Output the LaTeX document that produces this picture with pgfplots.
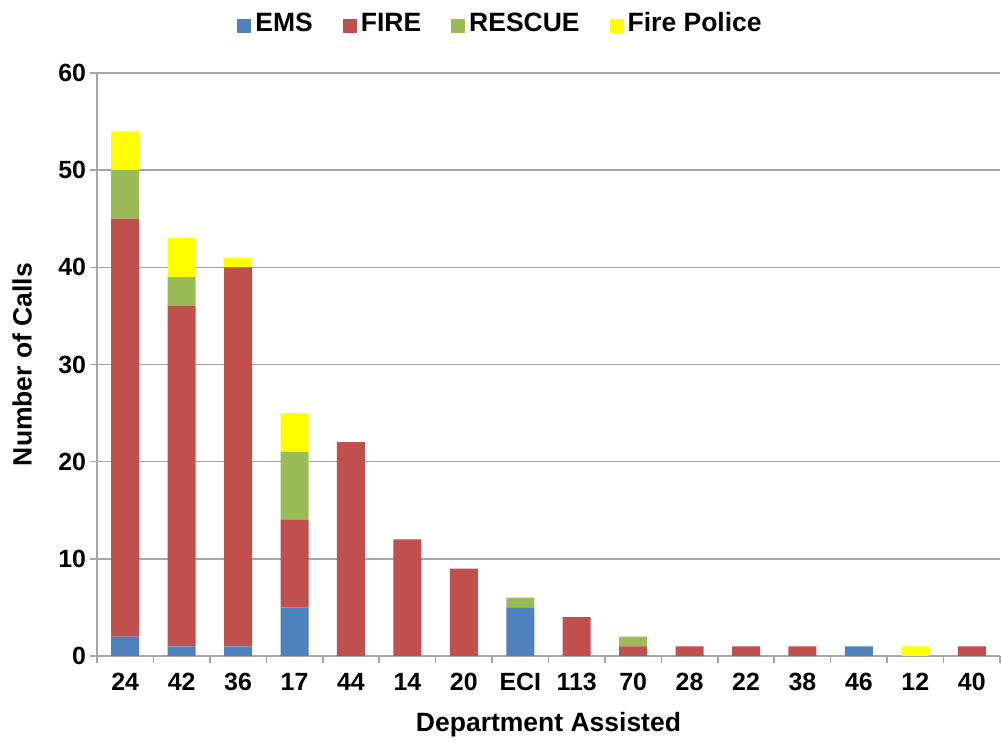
\documentclass[border=0pt]{standalone}
\usepackage{pgfplots}
\pgfplotsset{compat=1.18}
\usepackage{fontspec}
\setmainfont{Liberation Sans}
\definecolor{ems}{HTML}{4F81BD}
\definecolor{fire}{HTML}{C0504D}
\definecolor{rescue}{HTML}{9BBB59}
\definecolor{fp}{HTML}{FFFF00}
\definecolor{gridc}{HTML}{A6A6A6}
\begin{document}
\begin{tikzpicture}
\begin{axis}[
  scale only axis,
  width=451.5bp, height=291.5bp,
  ybar stacked, bar width=14bp,
  ymin=0, ymax=60, ytick={0,10,...,60},
  xmin=-0.5, xmax=15.5,
  xtick={0,...,15},
  xticklabels={24,42,36,17,44,14,20,ECI,113,70,28,22,38,46,12,40},
  minor xtick={-0.5,0.5,...,15.5},
  major x tick style={draw=none},
  minor x tick style={draw=gridc, line width=0.8pt},
  minor tick length=3.5bp,
  major tick length=3.5bp,
  xtick pos=bottom, ytick pos=left,
  tick align=outside,
  axis x line*=bottom, axis y line*=left,
  axis line style={draw=gridc, line width=0.8pt, -},
  y tick style={draw=gridc, line width=0.8pt},
  ymajorgrids, grid style={draw=gridc, line width=0.8pt},
  tick label style={font=\bfseries\fontsize{12.5}{14}\selectfont},
  xticklabel style={yshift=-1.5bp},
  yticklabel style={xshift=1.5bp},
  /pgf/number format/assume math mode=true,
  xlabel={Department Assisted}, ylabel={Number of Calls},
  label style={font=\bfseries\fontsize{13.3}{15}\selectfont},
  xlabel style={at={(axis description cs:0.5,-0.117)}, anchor=center},
  ylabel style={at={(axis description cs:-0.083,0.5)}, anchor=center, rotate=0},
  legend style={at={(axis description cs:0.448,1)}, anchor=center, yshift=25.5bp, draw=none, inner sep=0pt, legend columns=4,
    font=\bfseries\fontsize{13.3}{15}\selectfont,
    nodes={inner sep=2bp, text height=9.6bp, text depth=0bp},
    /tikz/every even column/.append style={column sep=13bp}},
  legend image code/.code={\fill[#1] (0bp,-5.6bp) rectangle (7bp,1.4bp);},
  legend cell align=left,
]
\addplot[fill=ems, draw=none] coordinates {(0,2)(1,1)(2,1)(3,5)(4,0)(5,0)(6,0)(7,5)(8,0)(9,0)(10,0)(11,0)(12,0)(13,1)(14,0)(15,0)};
\addplot[fill=fire, draw=none] coordinates {(0,43)(1,35)(2,39)(3,9)(4,22)(5,12)(6,9)(7,0)(8,4)(9,1)(10,1)(11,1)(12,1)(13,0)(14,0)(15,1)};
\addplot[fill=rescue, draw=none] coordinates {(0,5)(1,3)(2,0)(3,7)(4,0)(5,0)(6,0)(7,1)(8,0)(9,1)(10,0)(11,0)(12,0)(13,0)(14,0)(15,0)};
\addplot[fill=fp, draw=none] coordinates {(0,4)(1,4)(2,1)(3,4)(4,0)(5,0)(6,0)(7,0)(8,0)(9,0)(10,0)(11,0)(12,0)(13,0)(14,1)(15,0)};
\legend{EMS,FIRE,RESCUE,Fire Police}
\end{axis}
\pgfresetboundingbox
\useasboundingbox ([shift={(-48.5bp,-43.5bp)}]current axis.south west) rectangle ([shift={(1bp,36.5bp)}]current axis.north east);
\end{tikzpicture}
\end{document}
